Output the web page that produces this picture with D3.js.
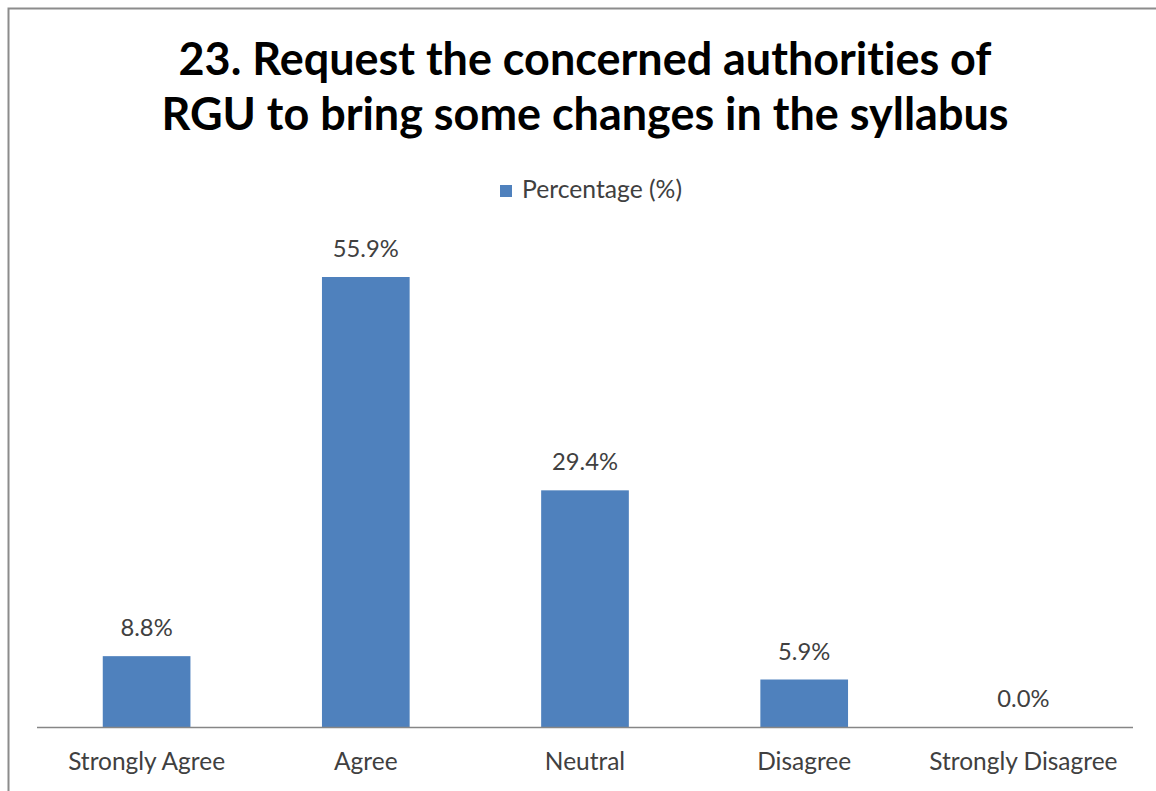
<!DOCTYPE html>
<html>
<head>
<meta charset="utf-8">
<script src="https://cdn.jsdelivr.net/npm/d3@7/dist/d3.min.js"></script>
<style>
  html, body { margin: 0; padding: 0; background: #fff; }
  svg { display: block; }
  text { font-family: Lato, "Open Sans", sans-serif; font-variant-ligatures: none; font-feature-settings: "liga" 0, "clig" 0; }
</style>
</head>
<body>
<svg id="chart" width="1156" height="791"></svg>
<script>
const categories = ["Strongly Agree", "Agree", "Neutral", "Disagree", "Strongly Disagree"];
const values = [8.8, 55.9, 29.4, 5.9, 0.0];
const seriesName = "Percentage (%)";
const titleLines = ["23. Request the concerned authorities of", "RGU to bring some changes in the syllabus"];

const svg = d3.select("#chart");
const W = 1156, H = 791;

// chart border
svg.append("rect")
  .attr("x", 8.5).attr("y", 8.5)
  .attr("width", W + 20).attr("height", H + 20)
  .attr("fill", "#fff").attr("stroke", "#8c8c8c").attr("stroke-width", 2);

const plot = { left: 37, right: 1133, top: 244, bottom: 727 };

const x = d3.scaleBand()
  .domain(categories)
  .range([plot.left, plot.right])
  .paddingInner(0.6)
  .paddingOuter(0.3);

const y = d3.scaleLinear()
  .domain([0, 60])
  .range([plot.bottom, plot.top]);

// fit helper: scale font size so a reference string has the target width
function fitSize(str, weight, target) {
  const t = svg.append("text").attr("font-size", 100).attr("font-weight", weight).text(str);
  const w = t.node().getComputedTextLength();
  t.remove();
  return 100 * target / w;
}

// title
const titleSize = fitSize(titleLines[0], "bold", 813);
svg.append("g").selectAll("text")
  .data(titleLines)
  .join("text")
  .attr("x", 585)
  .attr("y", (d, i) => 75 + i * 55)
  .attr("text-anchor", "middle")
  .attr("font-weight", "bold")
  .attr("font-size", titleSize)
  .attr("fill", "#000")
  .text(d => d);

// legend
const legendSize = fitSize(seriesName, "normal", 160);
const lg = svg.append("g");
lg.append("rect")
  .attr("x", 500).attr("y", 185)
  .attr("width", 12).attr("height", 12)
  .attr("fill", "#4F81BD");
lg.append("text")
  .attr("x", 522).attr("y", 198)
  .attr("font-size", legendSize)
  .attr("fill", "#404040")
  .text(seriesName);

// bars
const data = categories.map((c, i) => ({ c, v: values[i] }));
svg.append("g").selectAll("rect")
  .data(data)
  .join("rect")
  .attr("x", d => x(d.c))
  .attr("y", d => y(d.v))
  .attr("width", x.bandwidth())
  .attr("height", d => y(0) - y(d.v))
  .attr("fill", "#4F81BD");

// value labels
const valSize = fitSize("55.9%", "normal", 66);
svg.append("g").selectAll("text")
  .data(data)
  .join("text")
  .attr("x", d => x(d.c) + x.bandwidth() / 2)
  .attr("y", d => y(d.v) - 20)
  .attr("text-anchor", "middle")
  .attr("font-size", valSize)
  .attr("fill", "#404040")
  .text(d => d.v.toFixed(1) + "%");

// x axis
const xAxis = d3.axisBottom(x).tickSize(0).tickPadding(0);
const ax = svg.append("g")
  .attr("transform", `translate(0,${plot.bottom})`)
  .call(xAxis);
ax.select(".domain").attr("stroke", "#868686").attr("stroke-width", 1.3)
  .attr("d", `M${plot.left},0.5H${plot.right}`);
const catSize = fitSize("Strongly Agree", "normal", 157);
ax.selectAll(".tick text")
  .attr("dy", 0)
  .attr("y", 43)
  .attr("font-size", catSize)
  .attr("font-family", "Lato, 'Open Sans', sans-serif")
  .attr("fill", "#404040");
</script>
</body>
</html>
